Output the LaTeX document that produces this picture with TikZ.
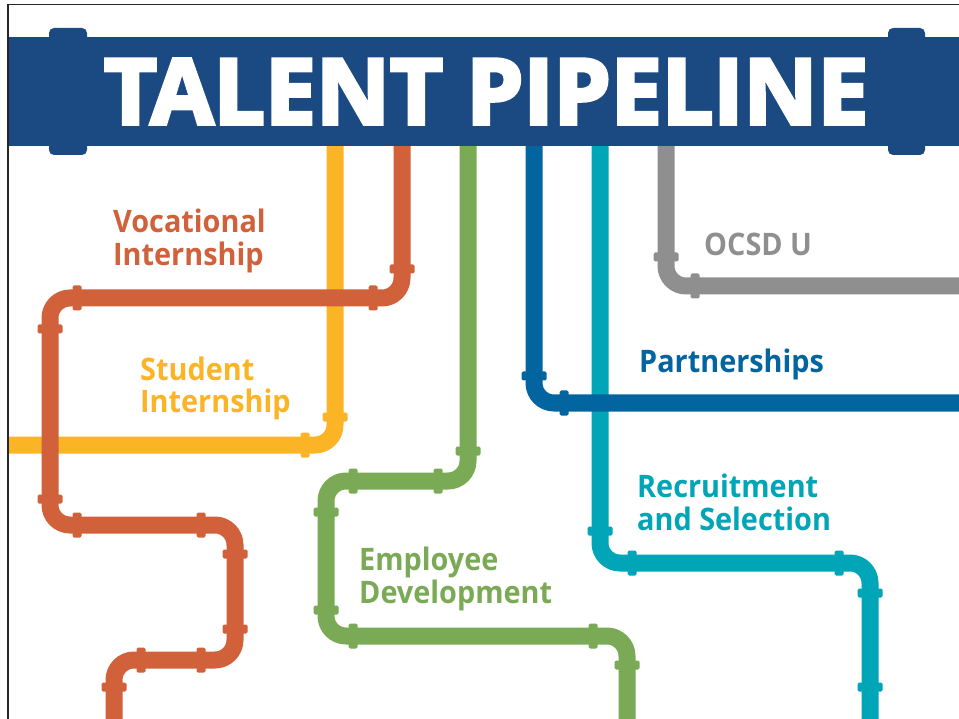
\documentclass[tikz,border=0pt]{standalone}
\usepackage{fontspec}
\setmainfont{Open Sans}
\newfontfamily\labfont{Open Sans}[FakeStretch=0.93]
\newfontfamily\titlefont{Open Sans}[BoldFeatures={FakeBold=4}]
\definecolor{hdr}{HTML}{1B4A82}
\definecolor{cor}{HTML}{D0613A}
\definecolor{cyl}{HTML}{FBB426}
\definecolor{cgr}{HTML}{7BAA56}
\definecolor{cbl}{HTML}{02659F}
\definecolor{ctl}{HTML}{00A5B8}
\definecolor{cgy}{HTML}{8E8F8E}
\tikzset{
  pipe/.style={line width=17pt, rounded corners=20pt},
  lab/.style={anchor=base west, inner sep=0pt, font=\labfont\bfseries\fontsize{31}{33}\selectfont},
}
\newcommand\cv[3]{\fill[#3,rounded corners=1.5pt,shift={(#1,#2)}] (-12.5,-4.5) rectangle (12.5,4.5);}
\newcommand\ch[3]{\fill[#3,rounded corners=1.5pt,shift={(#1,#2)}] (-4.5,-12.5) rectangle (4.5,12.5);}
\begin{document}
\begin{tikzpicture}[x=1pt,y=-1pt]
\useasboundingbox (0,0) rectangle (959,719);
\begin{scope}
\clip (8,5) rectangle (959,719);
% yellow
\draw[pipe,cyl] (335,140) -- (335,445) -- (-10,445);
\cv{335}{417}{cyl} \ch{305}{445}{cyl}
% teal
\draw[pipe,ctl] (600,140) -- (600,563) -- (870,563) -- (870,730);
\cv{600}{531}{ctl} \ch{632}{563}{ctl} \ch{839}{563}{ctl} \cv{870}{593}{ctl} \cv{870}{687}{ctl}
% orange
\draw[pipe,cor] (402,140) -- (402,298) -- (50,298) -- (50,525) -- (235,525) -- (235,660) -- (114,660) -- (114,730);
\cv{402}{269}{cor} \ch{373}{298}{cor} \ch{77}{298}{cor} \cv{50}{329}{cor}
\cv{50}{499}{cor} \ch{77}{525}{cor} \ch{201}{525}{cor} \cv{235}{554}{cor}
\cv{235}{629}{cor} \ch{201}{660}{cor} \ch{141}{660}{cor} \cv{114}{687}{cor}
% green
\draw[pipe,cgr] (468,140) -- (468,481) -- (326,481) -- (326,636) -- (627,636) -- (627,730);
\cv{468}{451}{cgr} \ch{438}{481}{cgr} \ch{353}{481}{cgr} \cv{326}{512}{cgr}
\cv{326}{610}{cgr} \ch{353}{636}{cgr} \ch{593}{636}{cgr} \cv{627}{665}{cgr}
% blue
\draw[pipe,cbl] (534,140) -- (534,403) -- (975,403);
\cv{534}{376}{cbl} \ch{564}{403}{cbl}
% gray
\draw[pipe,cgy] (666,140) -- (666,286) -- (975,286);
\cv{666}{257}{cgy} \ch{695}{286}{cgy}
% header
\fill[hdr] (8,37) rectangle (975,146);
\fill[hdr,rounded corners=5pt] (49,28) rectangle (87,155);
\fill[hdr,rounded corners=5pt] (888,28) rectangle (925,155);
\end{scope}
\node[anchor=base west, inner sep=0pt, text=white] (title) at (104,124)
  {\resizebox{764pt}{65pt}{\titlefont\bfseries TALENT PIPELINE}};
% labels
\node[lab,text=cor] (voc1) at (113,233) {Vocational};
\node[lab,text=cor] (voc2) at (113,266) {Internship};
\node[lab,text=cyl] (stu1) at (140,381) {Student};
\node[lab,text=cyl] (stu2) at (140,413) {Internship};
\node[lab,text=cgy] (ocsd) at (704,256) {OCSD U};
\node[lab,text=cbl] (part) at (639,373) {Partnerships};
\node[lab,text=ctl] (rec1) at (637,497) {Recruitment};
\node[lab,text=ctl] (rec2) at (637,530) {and Selection};
\node[lab,text=cgr] (emp1) at (359,570) {Employee};
\node[lab,text=cgr] (emp2) at (359,603) {Development};
% frame
\draw[line width=1.5pt, black!85] (8,725) -- (8,4.75) -- (965,4.75);
\end{tikzpicture}
\end{document}
